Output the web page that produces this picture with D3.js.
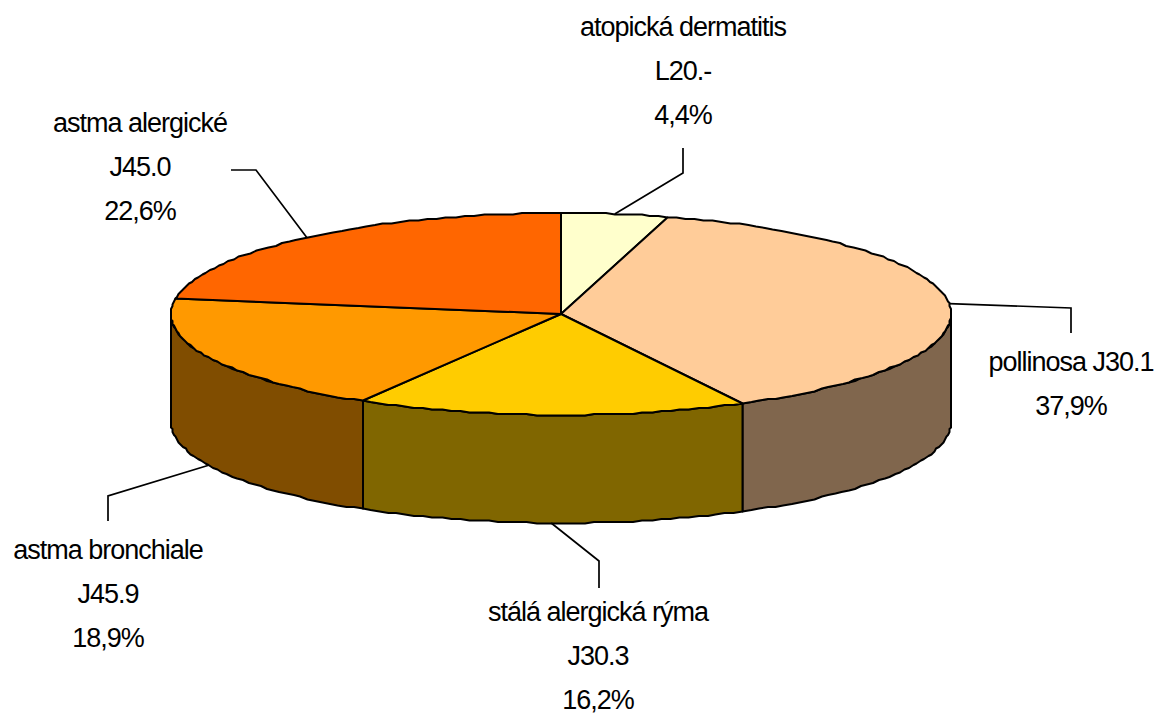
<!DOCTYPE html>
<html>
<head>
<meta charset="utf-8">
<script src="https://cdn.jsdelivr.net/npm/d3@7/dist/d3.min.js"></script>
<style>
  html, body { margin: 0; background: #fff; overflow: hidden; }
  svg { display: block; }
  text { font-family: "Liberation Sans", Arial, sans-serif; font-size: 27px; letter-spacing: -1px; fill: #000; text-anchor: middle; }
  .edge { stroke: #000; stroke-width: 2; stroke-linejoin: round; }
  .leader { fill: none; stroke: #000; stroke-width: 1.7; }
</style>
</head>
<body>
<svg id="chart" width="1158" height="715"></svg>
<script>
const names = ["atopická dermatitis", "pollinosa J30.1", "stálá alergická rýma", "astma bronchiale", "astma alergické"];
const codes = ["L20.-", "", "J30.3", "J45.9", "J45.0"];
const shares = [4.4, 37.9, 16.2, 18.9, 22.6];
const topColors = ["#ffffcc", "#ffcc99", "#ffcc00", "#ff9900", "#ff6600"];
const sideColors = ["#808066", "#80664d", "#806600", "#804d00", "#803300"];

// label block centre + first baseline, then leader elbow and end
const labelLayout = [
  { x: 683, y: 36, elbow: [683, 173], end: [683, 148] },
  { x: 1071, y: 371, elbow: [1071, 308], end: [1071, 333] },
  { x: 598, y: 621, elbow: [599, 561], end: [599, 588] },
  { x: 108, y: 559, elbow: [108, 496], end: [108, 521] },
  { x: 140, y: 132, elbow: [256, 170], end: [231, 170] },
];

const cx = 561, cy = 314, rx = 390, ry = 101, depth = 108;
const lineStep = 44;

const px = d3.scaleLinear().domain([-1, 1]).range([cx - rx, cx + rx]);
const py = d3.scaleLinear().domain([-1, 1]).range([cy - ry, cy + ry]);
const pointAt = (a, dy = 0) => [px(Math.sin(a)), py(-Math.cos(a)) + dy];

// the original outline is low-res, so it steps a little
const snap = ([x, y]) => [Math.round(x / 1.5) * 1.5, Math.round(y / 1.5) * 1.5];

const slices = d3.pie().sort(null).value((d) => d)(shares);
const svg = d3.select("#chart");
const line = d3.line();

const arcAngles = (a0, a1) => {
  const n = Math.ceil((a1 - a0) * 40);
  return d3.range(n + 1).map((k) => a0 + ((a1 - a0) * k) / n);
};

// rim: only the front half of the ellipse shows
const sidesG = svg.append("g");
slices.forEach((s, i) => {
  const a0 = Math.max(s.startAngle, Math.PI / 2);
  const a1 = Math.min(s.endAngle, Math.PI * 1.5);
  if (a0 >= a1) return;
  const angles = arcAngles(a0, a1);
  const pts = angles.map((a) => snap(pointAt(a))).concat(angles.slice().reverse().map((a) => snap(pointAt(a, depth))));
  sidesG.append("path")
    .attr("class", "edge")
    .attr("fill", sideColors[i])
    .attr("d", line(pts) + "Z");
});

// top face
const topG = svg.append("g");
slices.forEach((s, i) => {
  const pts = arcAngles(s.startAngle, s.endAngle).map((a) => snap(pointAt(a)));
  topG.append("path")
    .attr("class", "edge")
    .attr("fill", topColors[i])
    .attr("d", line([[cx, cy], ...pts]) + "Z");
});

// leaders start at the slice's mid angle
slices.forEach((s, i) => {
  const mid = (s.startAngle + s.endAngle) / 2;
  const front = Math.cos(mid) < 0 && Math.abs(Math.sin(mid)) < 0.95;
  const l = labelLayout[i];
  svg.append("path")
    .attr("class", "leader")
    .attr("d", line([pointAt(mid, front ? depth : 0), l.elbow, l.end]));
});

// labels
names.forEach((name, i) => {
  const l = labelLayout[i];
  const rows = [name, codes[i], String(shares[i]).replace(".", ",") + "%"].filter(Boolean);
  const t = svg.append("text");
  rows.forEach((r, k) => {
    t.append("tspan").attr("x", l.x).attr("y", l.y + k * lineStep).text(r);
  });
});
</script>
</body>
</html>
